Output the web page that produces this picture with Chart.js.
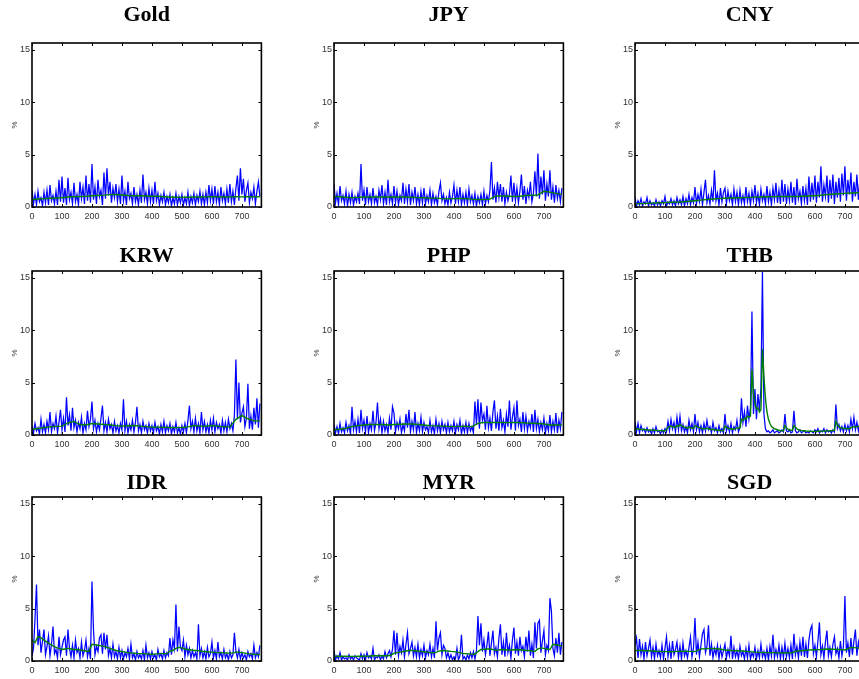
<!DOCTYPE html>
<html>
<head>
<meta charset="utf-8">
<script src="https://cdn.jsdelivr.net/npm/chart.js@4"></script>
<style>
  html, body { margin: 0; padding: 0; background: #fff; }
  body { width: 859px; height: 679px; position: relative; overflow: hidden; }
  canvas { position: absolute; }
</style>
</head>
<body>
<script>
// Axis ticks shared by every panel
const xTicks = [0, 100, 200, 300, 400, 500, 600, 700];
const yTicks = [0, 5, 10, 15];
const xMax = 765;
const yMax = 15.66;
const lastObs = 760;

const titles = ['Gold', 'JPY', 'CNY', 'KRW', 'PHP', 'THB', 'IDR', 'MYR', 'SGD'];

// Blue: daily absolute returns (%), sampled every 5 obs
const goldBlue = [
  1.6,0.3,1.2,0.2,1.5,0.5,0.9,0.1,1.4,0.4,1.6,0.2,2.1,0.6,1.1,0.3,1.5,0.2,2.6,0.5,
  2.9,0.4,1.8,0.2,2.8,0.7,1.4,0.3,2.3,0.5,1.2,0.2,2.4,0.8,1.9,0.3,3.0,0.6,2.2,0.4,
  4.1,0.7,1.9,0.3,2.6,1.0,1.6,0.2,3.3,0.8,3.7,1.1,2.4,0.4,1.8,0.9,2.2,0.5,1.7,0.3,
  3.0,0.6,1.5,0.2,2.4,0.8,1.3,0.3,1.9,0.5,1.2,0.2,1.6,0.4,3.1,0.7,1.4,0.3,1.8,0.5,
  1.6,0.3,2.4,0.6,1.3,0.2,1.1,0.5,1.4,0.2,1.0,0.4,1.2,0.1,0.9,0.3,1.3,0.2,1.0,0.4,
  1.2,0.2,0.9,0.3,1.4,0.1,1.0,0.4,1.3,0.2,1.1,0.5,1.5,0.3,1.2,0.2,1.4,0.4,2.1,0.6,
  1.7,0.3,2.0,0.5,1.4,0.2,1.9,0.6,1.3,0.3,1.7,0.4,2.2,0.5,1.5,0.2,1.8,3.0,0.6,3.7,
  1.2,2.7,0.5,1.6,2.3,0.4,1.4,0.8,1.9,0.3,1.5,2.4,1.0
];
const jpyBlue = [
  2.2,0.4,1.3,0.2,2.0,0.6,1.1,0.3,1.5,0.1,1.2,0.4,1.4,0.2,1.0,0.5,1.3,0.3,4.1,0.6,
  1.6,0.2,1.9,0.5,1.2,0.3,1.8,0.4,1.0,0.2,1.6,0.7,2.1,0.3,1.4,0.2,2.6,0.5,1.2,0.3,
  2.0,0.4,1.5,0.2,1.1,0.6,2.3,0.3,1.7,0.5,2.2,0.2,1.4,0.6,1.9,0.3,1.2,0.2,1.5,0.4,
  1.8,0.3,1.1,0.5,1.6,0.2,1.3,0.4,1.0,0.2,1.5,2.3,0.6,1.2,0.3,0.9,0.2,1.4,0.4,1.0,
  2.1,0.3,1.6,0.5,1.9,0.2,1.2,0.4,1.4,0.2,1.7,0.5,1.1,0.3,1.3,0.1,1.0,0.4,1.2,0.2,
  1.5,0.3,1.1,0.5,1.6,4.3,0.7,1.8,0.4,2.4,0.9,2.2,0.5,1.9,0.3,1.4,0.6,1.2,3.0,0.5,
  2.3,0.6,1.8,0.4,1.5,3.1,0.7,2.0,0.3,1.6,0.9,2.4,0.5,1.3,3.4,1.0,5.1,0.8,2.9,1.2,
  3.5,0.6,2.2,1.0,3.5,0.7,1.9,0.4,2.1,0.8,1.6,0.5,1.8
];
const cnyBlue = [
  0.9,0.1,0.6,0.2,0.8,0.1,0.5,0.3,0.9,0.1,0.6,0.2,0.4,0.1,0.7,0.2,0.5,0.1,0.6,0.3,
  1.0,0.1,0.5,0.3,0.8,0.2,0.6,0.1,0.9,0.3,0.7,0.2,1.0,0.1,0.8,0.3,1.2,0.2,0.9,0.4,
  1.9,0.3,1.2,0.5,1.7,0.2,1.4,2.6,0.4,1.1,0.3,1.6,0.5,3.5,0.6,1.3,0.2,1.8,0.5,1.4,
  1.8,0.3,1.5,0.6,1.2,0.2,1.7,0.5,1.4,0.2,1.6,0.4,1.1,0.3,1.9,0.5,1.3,0.2,1.5,0.6,
  2.1,0.4,1.3,0.2,1.7,0.6,1.2,0.3,2.0,0.5,1.4,0.2,1.8,0.7,2.3,0.4,1.6,0.3,2.6,0.5,
  2.2,0.3,1.7,0.6,2.4,0.4,1.9,0.2,2.7,0.8,1.5,0.3,2.0,0.6,1.8,0.2,2.9,0.5,2.3,0.7,
  3.0,0.4,2.4,0.9,3.9,0.5,2.1,1.0,3.0,0.4,2.6,0.8,3.1,0.3,2.4,0.9,2.8,0.5,3.2,1.1,
  3.9,0.6,2.6,1.2,3.3,0.5,2.4,1.0,3.1,0.7,2.7,1.3,3.7
];
const krwBlue = [
  0.9,0.2,1.1,0.4,0.7,0.1,1.5,0.3,1.0,0.2,1.3,0.5,2.2,0.3,1.1,0.6,1.8,0.2,1.2,2.4,
  0.5,1.6,0.3,3.6,0.9,1.9,0.4,2.6,0.7,1.4,0.3,1.2,0.6,1.7,0.2,1.1,0.5,2.3,0.8,1.5,
  3.2,0.6,1.4,0.3,1.1,0.5,1.6,2.8,0.4,1.2,0.3,1.5,0.6,1.0,0.2,1.3,0.4,0.9,0.2,1.1,
  0.5,3.4,0.4,1.3,0.2,1.0,0.5,1.4,0.3,1.2,2.7,0.4,1.0,0.2,1.3,0.5,0.9,0.2,1.1,0.4,
  0.9,0.2,1.2,0.4,0.8,0.1,1.0,0.3,1.3,0.2,0.9,0.4,1.1,0.1,0.8,0.3,1.2,0.2,0.7,0.1,
  0.9,0.3,1.1,0.2,1.4,2.8,0.6,1.3,0.3,1.6,0.4,1.1,0.2,2.2,0.5,1.3,0.3,1.0,0.2,1.4,
  0.5,1.6,0.3,1.2,0.6,1.0,0.2,1.4,0.4,1.2,0.3,1.5,0.6,1.1,0.4,1.9,7.2,1.5,5.0,1.2,
  2.1,2.7,0.8,1.6,4.9,0.6,1.8,0.5,2.6,1.0,3.5,0.7,3.0
];
const phpBlue = [
  1.0,0.2,0.8,0.1,1.1,0.3,0.7,0.2,1.2,0.4,0.9,0.1,2.7,0.5,1.3,0.3,1.5,0.2,2.4,0.6,
  1.4,0.3,1.8,0.2,1.1,0.5,2.3,0.4,1.2,3.1,0.6,1.5,0.2,1.3,0.4,1.0,0.2,1.6,0.5,2.7,
  2.1,0.3,1.2,0.6,1.5,0.2,1.0,0.4,2.0,0.7,2.4,0.3,1.3,0.5,2.2,0.2,1.1,0.4,1.7,0.3,
  1.2,0.5,0.8,0.2,1.4,0.3,0.9,0.1,1.5,0.4,1.1,0.2,1.3,0.5,1.0,0.2,1.2,0.3,0.9,0.4,
  1.3,0.2,1.0,0.5,1.4,0.1,0.9,0.3,1.2,0.2,1.1,0.4,0.8,0.2,3.2,1.0,3.4,0.6,3.1,1.4,
  2.0,0.5,2.8,0.7,1.6,0.4,2.2,3.3,0.6,1.8,0.4,2.5,0.7,1.4,0.3,2.0,0.8,3.3,0.5,1.7,
  2.6,0.4,3.3,0.9,1.5,0.3,2.2,0.6,1.8,0.4,1.3,0.7,2.0,0.3,2.4,0.6,1.5,0.3,1.2,0.5,
  1.6,0.2,1.1,0.4,1.9,0.3,1.3,0.5,2.1,0.2,1.4,0.6,2.2
];
const thbBlue = [
  1.2,0.3,1.1,0.2,0.9,0.4,0.6,0.2,0.7,0.3,0.5,0.1,0.6,0.2,0.8,0.3,0.4,0.1,0.5,0.2,
  0.6,0.3,1.3,0.4,1.5,0.6,1.2,0.3,1.7,0.5,1.8,0.4,1.0,0.3,0.8,0.2,1.4,0.5,1.1,0.3,
  2.0,0.5,1.2,0.3,0.9,0.2,1.1,0.4,1.4,0.5,0.8,0.2,1.2,0.4,0.7,0.2,0.9,0.3,0.6,0.2,
  2.0,0.4,0.9,0.3,1.1,0.2,0.8,0.5,1.4,0.3,0.7,3.5,1.2,2.2,0.8,2.8,1.5,2.6,11.8,2.0,
  4.4,1.5,3.9,2.4,4.5,15.6,2.0,0.6,0.3,0.4,0.2,0.3,0.5,0.2,0.3,0.4,0.2,0.3,0.5,0.3,
  2.0,0.4,0.3,0.5,0.2,0.3,2.3,0.4,0.2,0.3,0.5,0.2,0.3,0.4,0.2,0.3,0.2,0.4,0.3,0.2,
  0.5,0.3,0.6,0.2,0.4,0.3,0.6,0.2,0.5,0.3,0.4,0.2,0.5,0.3,2.9,0.6,1.0,0.4,0.8,0.3,
  1.0,0.4,0.9,0.3,1.5,0.6,1.7,0.5,1.2,0.4,1.3,0.8,1.6
];
const idrBlue = [
  0.5,1.2,4.0,7.3,1.5,3.0,0.8,1.9,3.0,0.6,1.4,2.4,0.5,1.6,3.3,0.7,1.1,0.3,2.3,0.6,
  1.3,2.0,2.3,0.5,3.0,1.2,0.4,1.5,0.3,2.0,0.8,1.2,0.3,1.8,0.5,1.0,2.0,0.4,1.2,0.2,
  7.6,3.0,0.6,1.4,0.9,2.2,2.5,0.7,2.7,1.1,2.5,0.5,1.2,0.3,1.6,0.4,0.9,0.2,1.3,0.3,
  1.0,0.2,0.8,0.4,1.2,0.2,1.6,0.3,0.7,0.1,0.9,0.3,0.6,0.2,1.0,0.1,1.5,0.3,0.8,0.2,
  0.9,0.3,0.6,0.1,1.1,0.4,0.7,0.2,1.0,0.3,0.8,0.5,2.2,0.6,2.0,1.2,5.4,0.9,3.3,1.3,
  1.0,2.0,0.4,1.5,0.6,1.2,0.3,1.0,0.4,0.8,0.2,3.5,0.5,1.2,0.3,0.9,0.2,1.3,0.4,0.7,
  1.8,0.3,1.0,0.2,1.8,0.4,0.8,0.2,1.1,0.3,0.7,0.1,0.9,0.3,0.6,2.7,0.9,0.3,1.1,0.2,
  0.8,0.3,0.6,0.1,0.9,0.4,0.7,0.2,1.5,0.3,0.8,0.4,1.5
];
const myrBlue = [
  1.0,0.1,0.5,0.2,0.8,0.1,0.4,0.2,0.3,0.1,0.6,0.2,0.4,0.1,0.5,0.3,0.2,0.1,0.7,0.2,
  0.6,0.1,0.8,0.3,0.5,0.2,1.2,0.1,0.4,0.3,0.6,0.1,0.5,0.2,0.9,0.3,0.7,1.0,0.4,1.1,
  2.9,0.6,2.7,0.5,1.4,0.8,2.0,0.4,1.6,2.7,0.7,1.2,1.8,0.5,1.3,0.4,1.6,0.3,1.1,0.5,
  1.5,0.3,1.0,0.6,1.6,0.4,1.2,0.3,3.8,1.0,2.2,2.7,0.6,1.5,1.2,0.3,0.8,0.2,0.6,0.1,
  0.4,0.2,1.2,0.1,0.5,2.5,0.2,0.4,0.1,0.6,0.2,0.8,0.3,0.9,0.2,1.0,4.3,1.5,3.6,0.9,
  2.0,0.6,1.5,2.8,0.5,1.7,2.9,0.7,1.3,0.4,2.2,3.5,0.6,1.8,0.4,2.7,0.8,1.5,0.3,2.0,
  3.2,0.7,1.8,0.5,2.3,1.0,1.4,0.4,2.3,0.9,2.9,0.5,1.6,0.3,3.7,1.2,3.6,3.9,0.8,1.9,
  2.9,0.6,1.5,1.0,6.0,4.8,1.2,0.5,2.2,0.8,2.7,0.6,1.8
];
const sgdBlue = [
  1.5,2.2,0.3,2.1,0.6,1.4,0.2,1.8,0.5,1.2,2.0,0.4,1.3,0.2,1.6,0.5,1.0,0.3,1.5,0.2,
  1.2,2.3,0.4,1.5,0.2,1.9,0.6,1.1,1.8,0.3,1.4,0.2,1.7,0.5,1.0,0.3,1.3,2.3,0.4,1.2,
  4.1,0.6,1.8,0.4,1.5,2.6,3.0,0.8,1.4,3.4,0.5,1.6,0.3,1.2,0.6,1.5,0.2,1.3,0.4,1.0,
  1.6,0.3,1.1,0.5,2.4,0.2,1.3,0.4,1.0,0.2,1.4,0.5,0.9,0.2,1.2,0.3,1.5,0.2,0.8,0.4,
  1.3,0.2,1.0,0.3,1.6,0.4,0.9,0.2,1.2,0.1,1.4,0.5,2.5,0.3,1.1,0.4,1.5,0.2,1.3,0.3,
  1.7,0.4,1.2,0.3,1.5,0.2,2.6,0.6,1.4,0.3,1.8,0.5,2.3,0.4,1.6,0.3,2.0,3.0,3.4,0.7,
  1.5,0.4,1.9,3.7,0.6,1.4,0.3,1.8,2.9,0.5,1.3,0.4,1.6,2.3,0.7,1.2,0.3,1.9,0.5,1.4,
  6.2,0.8,1.7,0.4,2.2,0.6,1.9,3.0,0.5,1.8,0.9,2.4,1.3
];

// Green: conditional volatility (%), spread evenly over the same 0..760 range
const goldGreen = [0.72,0.76,0.8,0.83,0.86,0.9,0.95,0.98,1.0,1.03,1.08,1.1,1.13,1.18,1.2,1.15,1.1,1.08,1.07,1.05,
  1.03,1.02,0.98,0.95,0.93,0.92,0.93,0.95,0.96,0.97,0.98,0.97,0.96,0.97,0.98,0.97,0.98,0.97,0.98];
const jpyGreen = [1.0,0.98,0.93,0.9,0.92,0.95,0.95,0.95,0.95,0.95,0.95,0.96,0.95,0.93,0.9,0.88,0.85,0.85,0.8,0.78,
  0.8,0.82,0.8,0.75,0.72,0.7,0.75,1.05,1.05,1.02,1.0,1.03,1.1,1.12,1.15,1.5,1.42,1.3,1.2];
const cnyGreen = [0.3,0.32,0.35,0.37,0.4,0.42,0.45,0.47,0.5,0.55,0.6,0.66,0.72,0.76,0.8,0.83,0.86,0.88,0.9,0.92,
  0.94,0.96,0.98,0.99,1.0,1.0,1.0,1.0,1.02,1.05,1.08,1.12,1.18,1.22,1.27,1.3,1.33,1.36,1.38];
const krwGreen = [0.55,0.62,0.7,0.78,0.82,0.85,1.15,1.3,1.0,0.95,1.1,1.05,1.0,0.98,0.9,0.85,0.88,0.9,0.85,0.8,
  0.75,0.75,0.73,0.72,0.7,0.72,0.78,0.9,0.85,0.85,0.9,0.85,0.78,0.78,1.5,1.85,1.55,1.35,1.35];
const phpGreen = [0.5,0.55,0.65,0.8,0.9,0.95,1.0,1.0,1.0,0.95,1.0,1.02,1.05,1.05,1.0,0.95,0.9,0.87,0.85,0.82,
  0.8,0.82,0.85,0.78,1.1,1.2,1.2,1.2,1.2,1.18,1.2,1.2,1.15,1.12,1.1,1.05,0.95,0.95,0.97];
const thbGreen = [
  0.6,0.6,0.58,0.55,0.55,0.53,0.52,0.5,0.5,0.48,0.47,0.46,0.45,0.45,0.44,0.43,0.42,0.42,0.41,0.4,
  0.4,0.5,0.75,0.8,0.85,0.8,0.75,0.7,0.9,0.8,1.0,0.9,0.8,0.75,0.7,0.65,0.75,0.7,0.65,0.6,
  0.9,0.85,0.75,0.7,0.65,0.6,0.6,0.6,0.65,0.6,0.55,0.5,0.55,0.5,0.48,0.45,0.45,0.43,0.42,0.42,
  0.85,0.75,0.65,0.6,0.6,0.55,0.55,0.6,0.7,0.65,0.7,1.5,1.4,1.6,1.5,1.8,1.7,1.8,6.3,4.0,
  3.0,2.5,2.6,2.2,2.4,8.2,5.5,3.5,2.2,1.5,1.1,0.8,0.7,0.6,0.55,0.5,0.45,0.42,0.4,0.4,
  0.9,0.7,0.55,0.5,0.45,0.45,0.9,0.75,0.6,0.5,0.45,0.42,0.4,0.4,0.38,0.37,0.36,0.35,0.35,0.35,
  0.35,0.35,0.36,0.36,0.37,0.37,0.38,0.38,0.39,0.39,0.4,0.4,0.42,0.45,1.3,1.0,0.8,0.7,0.65,0.6,
  0.65,0.6,0.62,0.6,0.7,0.75,0.8,0.75,0.8,0.8,0.9,0.85,0.9
];
const idrGreen = [2.0,1.75,2.35,2.2,2.0,1.8,1.6,1.45,1.3,1.2,1.1,1.15,1.2,1.15,1.1,1.1,1.05,1.0,0.95,0.9,
  1.6,1.55,1.5,1.45,1.4,1.3,1.2,1.1,1.0,0.95,0.9,0.85,0.8,0.78,0.75,0.72,0.7,0.7,0.68,0.66,
  0.65,0.66,0.68,0.7,0.7,0.72,0.95,1.0,1.2,1.3,1.25,1.15,1.1,1.05,1.0,1.0,0.95,0.9,0.9,0.85,
  0.85,0.82,0.8,0.8,0.78,0.76,0.75,0.75,0.85,0.85,0.8,0.75,0.7,0.68,0.65,0.63,0.62];
const myrGreen = [0.45,0.45,0.45,0.45,0.45,0.44,0.44,0.44,0.45,0.45,0.46,0.47,0.48,0.5,0.5,0.5,0.5,0.5,0.5,0.55,
  0.75,0.8,0.85,0.9,0.95,1.0,1.0,0.98,0.95,0.9,0.88,0.85,0.8,0.8,0.82,0.95,1.0,0.98,0.95,0.92,
  0.9,0.85,0.8,0.72,0.7,0.68,0.66,0.65,0.9,1.1,1.12,1.15,1.15,1.1,1.02,1.05,1.1,1.08,1.05,1.05,
  1.08,1.1,1.08,1.05,1.0,1.0,0.95,0.92,1.15,1.25,1.2,1.15,1.1,1.6,1.55,1.5,1.45];
const sgdGreen = [1.0,1.0,0.98,0.95,0.92,0.9,0.88,0.92,0.93,0.92,0.9,1.15,1.18,1.2,1.15,1.05,1.0,0.98,0.95,0.9,
  0.85,0.82,0.8,0.8,0.78,0.77,0.78,0.95,1.0,1.05,1.08,1.1,1.15,1.12,1.1,1.05,1.3,1.25,1.2];

const blueSeries = [goldBlue, jpyBlue, cnyBlue, krwBlue, phpBlue, thbBlue, idrBlue, myrBlue, sgdBlue];
const greenSeries = [goldGreen, jpyGreen, cnyGreen, krwGreen, phpGreen, thbGreen, idrGreen, myrGreen, sgdGreen];

// Panel geometry (plot area in page pixels)
const colLeft = [32.3, 334.3, 635];
const rowTop = [43, 271, 497];
const plotW = 229.4;
const plotH = 164;
const titleGap = [28, 15, 14];
const canvasW = 290, canvasH = 225, padTop = 43, axisW = 32;

const toPoints = arr => arr.map((v, i) => ({ x: i * lastObs / (arr.length - 1), y: v }));

// Box, inward ticks (MATLAB style) and panel title
const boxPlugin = {
  id: 'box',
  afterDraw(chart, args, opts) {
    const { ctx, chartArea: a, scales } = chart;
    ctx.save();
    ctx.strokeStyle = '#000';
    ctx.lineWidth = 1;
    ctx.beginPath();
    xTicks.forEach(v => {
      const px = Math.round(scales.x.getPixelForValue(v)) + 0.5;
      ctx.moveTo(px, a.top); ctx.lineTo(px, a.top + 3);
      ctx.moveTo(px, a.bottom); ctx.lineTo(px, a.bottom - 3);
    });
    yTicks.forEach(v => {
      const py = Math.round(scales.y.getPixelForValue(v)) + 0.5;
      ctx.moveTo(a.left, py); ctx.lineTo(a.left + 3, py);
      ctx.moveTo(a.right, py); ctx.lineTo(a.right - 3, py);
    });
    ctx.stroke();
    ctx.lineWidth = 1.6;
    ctx.strokeRect(a.left, a.top, a.right - a.left, a.bottom - a.top);
    ctx.fillStyle = '#000';
    ctx.font = 'bold 22px "Liberation Serif", "DejaVu Serif", serif';
    ctx.textAlign = 'center';
    ctx.textBaseline = 'middle';
    ctx.fillText(opts.text, (a.left + a.right) / 2, a.top - opts.gap);
    ctx.restore();
  }
};

const tickFont = { family: '"Liberation Sans Narrow", "Liberation Sans", Arial, sans-serif', size: 9 };

titles.forEach((name, k) => {
  const r = Math.floor(k / 3), c = k % 3;
  const cv = document.createElement('canvas');
  cv.width = canvasW; cv.height = canvasH;
  cv.style.width = canvasW + 'px'; cv.style.height = canvasH + 'px';
  cv.style.left = (colLeft[c] - axisW) + 'px';
  cv.style.top = (rowTop[r] - padTop) + 'px';
  document.body.appendChild(cv);

  new Chart(cv.getContext('2d'), {
    type: 'line',
    data: {
      datasets: [
        { data: toPoints(greenSeries[k]), borderColor: '#008000', borderWidth: 1.4, pointRadius: 0, tension: 0 },
        { data: toPoints(blueSeries[k]), borderColor: '#0000ff', borderWidth: 1.25, pointRadius: 0, tension: 0 }
      ]
    },
    options: {
      responsive: false,
      animation: false,
      devicePixelRatio: 1,
      layout: { padding: { left: 0, top: padTop, right: canvasW - axisW - plotW, bottom: 0 } },
      plugins: {
        legend: { display: false },
        tooltip: { enabled: false },
        box: { text: name, gap: titleGap[r] }
      },
      scales: {
        x: {
          type: 'linear', min: 0, max: xMax,
          grid: { display: false, drawTicks: false },
          border: { display: false },
          afterBuildTicks: s => { s.ticks = xTicks.map(v => ({ value: v })); },
          afterFit: s => { s.height = canvasH - padTop - plotH; },
          ticks: { color: '#333', font: tickFont, padding: 4, maxRotation: 0, autoSkip: false }
        },
        y: {
          type: 'linear', min: 0, max: yMax,
          grid: { display: false, drawTicks: false },
          border: { display: false },
          afterBuildTicks: s => { s.ticks = yTicks.map(v => ({ value: v })); },
          afterFit: s => { s.width = axisW; },
          ticks: { color: '#333', font: tickFont, padding: 2 },
          title: { display: true, text: '%', color: '#333', font: { family: 'Liberation Sans, Arial, sans-serif', size: 8 }, padding: { top: 10, bottom: 0 } }
        }
      }
    },
    plugins: [boxPlugin]
  });
});
</script>
</body>
</html>
